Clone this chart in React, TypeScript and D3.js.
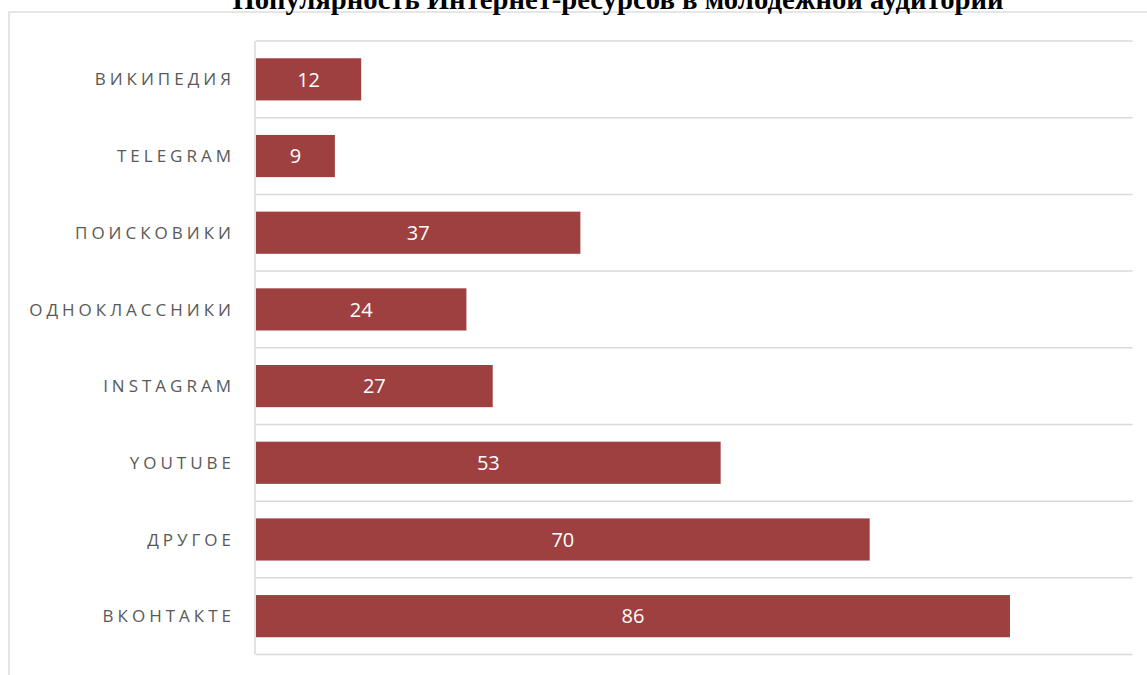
import React from "react";
import * as d3 from "d3";

const categories = ["ВИКИПЕДИЯ", "TELEGRAM", "ПОИСКОВИКИ", "ОДНОКЛАССНИКИ", "INSTAGRAM", "YOUTUBE", "ДРУГОЕ", "ВКОНТАКТЕ"];
const values = [12, 9, 37, 24, 27, 53, 70, 86];
const title = "Популярность Интернет-ресурсов в молодежной аудитории";

const W = 1147;
const H = 675;
const plotLeft = 256;
const plotRight = 1132.7;
const plotTop = 41;
const plotBottom = 654.5;

export default function App() {
  const x = d3.scaleLinear().domain([0, 100]).range([plotLeft, plotRight]);
  const y = d3
    .scaleBand<string>()
    .domain(categories)
    .range([plotTop, plotBottom])
    .paddingInner(0.45)
    .paddingOuter(0.225);
  const step = y.step();
  const boundaries = d3.range(categories.length + 1).map((i) => plotTop + i * step);

  return (
    <svg
      width={W}
      height={H}
      style={{ position: "absolute", left: 0, top: 0, background: "#fff" }}
    >
      <rect x={0} y={0} width={W} height={H} fill="#fff" />
      <rect x={9} y={12} width={W + 50} height={H + 50} fill="none" stroke="#d9d9d9" strokeWidth={1.3} />
      <text
        x={618}
        y={9}
        textAnchor="middle"
        fontFamily="'Liberation Serif', 'Times New Roman', serif"
        fontWeight="bold"
        fontSize={28.7}
        fill="#000"
      >
        {title}
      </text>
      {boundaries.map((b, i) => (
        <line key={i} x1={plotLeft} x2={plotRight} y1={b} y2={b} stroke="#d9d9d9" strokeWidth={1.5} />
      ))}
      <line x1={255} x2={255} y1={plotTop} y2={plotBottom} stroke="#d9d9d9" strokeWidth={1.5} />
      {categories.map((c, i) => {
        const yy = y(c)!;
        const bw = y.bandwidth();
        return (
          <g key={c}>
            <rect x={x(0)} y={yy} width={x(values[i]) - x(0)} height={bw} fill="#9e4040" />
            <text
              x={(x(0) + x(values[i])) / 2}
              y={yy + bw / 2}
              dy="0.36em"
              textAnchor="middle"
              fontFamily="'Open Sans', sans-serif"
              fontSize={20}
              fill="#fff"
            >
              {values[i]}
            </text>
            <text
              x={231 + 4}
              y={yy + bw / 2}
              dy="0.36em"
              textAnchor="end"
              fontFamily="'Open Sans', sans-serif"
              fontSize={17}
              letterSpacing={4}
              fill="#595959"
            >
              {c}
            </text>
          </g>
        );
      })}
    </svg>
  );
}
